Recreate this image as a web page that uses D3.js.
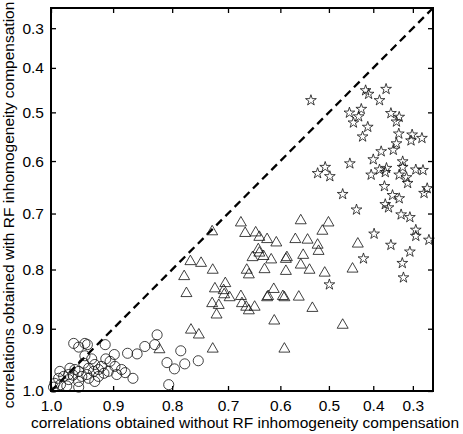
<!DOCTYPE html>
<html>
<head>
<meta charset="utf-8">
<script src="https://cdn.jsdelivr.net/npm/d3@7.9.0/dist/d3.min.js"></script>
<style>
  html, body { margin: 0; padding: 0; background: #fff; }
  svg { display: block; font-family: "Liberation Sans", Arial, Helvetica, sans-serif; }
</style>
</head>
<body>
<svg id="chart" width="463" height="434"></svg>
<script>
// correlations, x = without RF compensation, y = with RF compensation
const circleX = [.964, .956, .946, .942, .913, .826, .847, .830, .876, .860, .898, .912, .785, .809, .796, .778, .754, .806, .867, .880,
  .897, .894, .908, .924, .930, .935, .946, .948, .940, .943, .940, .956, .956, .956, .970, .972, .972, .975, .986, .988,
  .994, .996, .980, .924, .919, .932, .962, .951, .886, .905, .965, .985, .930, .915];
const circleY = [.924, .930, .924, .926, .926, .910, .929, .926, .940, .941, .942, .949, .936, .955, .965, .957, .952, .990, .980, .971,
  .961, .974, .969, .977, .958, .949, .944, .956, .964, .974, .980, .969, .985, .994, .964, .974, .982, .992, .969, .980,
  .988, .994, .977, .966, .961, .969, .966, .977, .966, .953, .975, .990, .985, .972];

const triangleX = [.676, .559, .501, .514, .668, .648, .641, .626, .608, .570, .545, .524, .522, .729, .643, .641, .654, .633, .618, .587,
  .589, .554, .559, .541, .509, .589, .631, .665, .661, .768, .749, .728, .779, .775, .724, .705, .708, .707, .697, .729,
  .717, .721, .676, .674, .666, .661, .650, .613, .624, .626, .595, .592, .563, .535, .612, .767, .753, .728, .592, .822,
  .436, .448, .470];
const triangleY = [.717, .713, .717, .732, .736, .735, .743, .747, .753, .747, .748, .757, .768, .733, .765, .771, .779, .777, .783, .779,
  .782, .775, .792, .801, .806, .803, .800, .801, .809, .786, .789, .801, .812, .841, .833, .824, .836, .843, .848, .858,
  .861, .877, .846, .858, .864, .870, .864, .834, .846, .848, .846, .848, .847, .866, .887, .902, .910, .933, .933, .934,
  .755, .799, .894];

const starX = [.538, .418, .411, .369, .385, .455, .428, .434, .446, .413, .425, .357, .336, .343, .337, .302, .275, .305, .343, .351,
  .381, .400, .454, .524, .508, .498, .405, .385, .368, .371, .327, .327, .336, .317, .314, .292, .272, .373, .470, .353,
  .336, .260, .269, .371, .363, .439, .331, .308, .292, .292, .255, .398, .357, .308, .423, .328, .325, .499];
const starY = [.474, .452, .460, .449, .474, .501, .493, .509, .522, .531, .551, .502, .510, .520, .545, .547, .554, .559, .565, .578,
  .581, .597, .605, .624, .612, .630, .627, .617, .614, .622, .601, .612, .627, .632, .643, .617, .618, .649, .664, .666,
  .672, .653, .662, .683, .689, .693, .702, .707, .730, .741, .748, .737, .757, .769, .781, .789, .814, .826];

const tickValues = [1.0, 0.9, 0.8, 0.7, 0.6, 0.5, 0.4, 0.3];
const axisDomain = [1.0, 0.243];
const xTitle = "correlations obtained without RF inhomogeneity compensation";
const yTitle = "correlations obtained with RF inhomogeneity compensation";

const svg = d3.select("#chart");
const plotLeft = 51, plotRight = 433, plotTop = 8, plotBottom = 391;

// both axes use the same stretched scale, so the identity line stays straight
const x = d3.scalePow().exponent(1.45).domain(axisDomain).range([plotLeft, plotRight]);
const y = d3.scalePow().exponent(1.45).domain(axisDomain).range([plotBottom, plotTop]);

const fmt = d3.format(".1f");

svg.append("g")
  .attr("transform", `translate(0,${plotBottom})`)
  .call(d3.axisBottom(x).tickValues(tickValues).tickFormat(fmt).tickSize(-5).tickPadding(9));
svg.append("g")
  .attr("transform", `translate(${plotLeft},0)`)
  .call(d3.axisLeft(y).tickValues(tickValues).tickFormat(fmt).tickSize(-5).tickPadding(7));
svg.append("g")
  .attr("transform", `translate(0,${plotTop})`)
  .call(d3.axisTop(x).tickValues(tickValues).tickFormat("").tickSize(-5));
svg.append("g")
  .attr("transform", `translate(${plotRight},0)`)
  .call(d3.axisRight(y).tickValues(tickValues).tickFormat("").tickSize(-5));

svg.selectAll(".domain").remove();
svg.selectAll(".tick line").attr("stroke", "#000").attr("stroke-width", 1.3);
svg.selectAll(".tick text").attr("font-size", 15.5).attr("fill", "#000")
  .attr("font-family", "'Liberation Sans', Arial, sans-serif");

// identity line
svg.append("line")
  .attr("x1", x(axisDomain[0])).attr("y1", y(axisDomain[0]))
  .attr("x2", x(axisDomain[1])).attr("y2", y(axisDomain[1]))
  .attr("stroke", "#000")
  .attr("stroke-width", 2.3)
  .attr("stroke-dasharray", "8,5");

function drawMarkers(xs, ys, type, size) {
  const sym = d3.symbol().type(type).size(size);
  svg.append("g").selectAll("path")
    .data(xs.map((v, i) => [v, ys[i]]))
    .join("path")
    .attr("d", sym)
    .attr("transform", d => `translate(${x(d[0])},${y(d[1])})`)
    .attr("fill", "none")
    .attr("stroke", "#111")
    .attr("stroke-width", 0.8);
}

drawMarkers(circleX, circleY, d3.symbolCircle, 80);
drawMarkers(triangleX, triangleY, d3.symbolTriangle, 52);
drawMarkers(starX, starY, d3.symbolStar, 36);

// frame
svg.append("rect")
  .attr("x", plotLeft).attr("y", plotTop)
  .attr("width", plotRight - plotLeft).attr("height", plotBottom - plotTop)
  .attr("fill", "none")
  .attr("stroke", "#000")
  .attr("stroke-width", 2);

// axis titles
svg.append("text")
  .attr("x", 245)
  .attr("y", 428)
  .attr("text-anchor", "middle")
  .attr("font-size", 15.5)
  .text(xTitle);

svg.append("text")
  .attr("transform", `translate(14,205) rotate(-90)`)
  .attr("text-anchor", "middle")
  .attr("font-size", 15.5)
  .text(yTitle);
</script>
</body>
</html>
